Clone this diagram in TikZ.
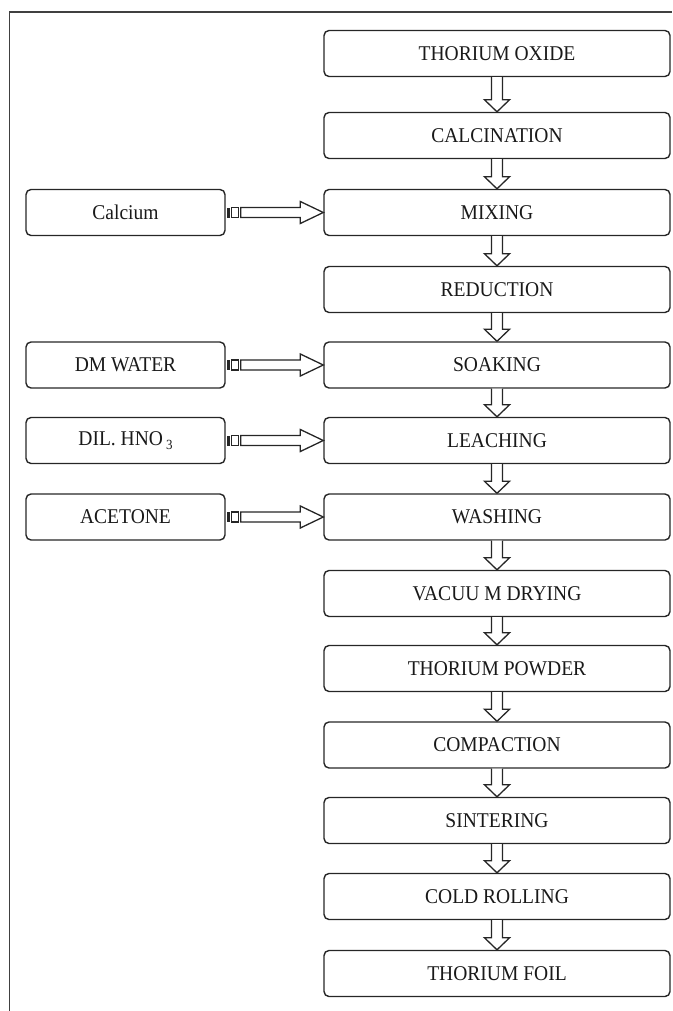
\documentclass[tikz,border=0pt]{standalone}
\usepackage{fontspec}
\setmainfont{Liberation Serif}[FakeStretch=0.93]
\usetikzlibrary{calc}
\tikzset{
  box/.style={draw=black!85, line width=1.4pt, rounded corners=5pt, inner sep=0pt,
    minimum height=46pt, font=\fontsize{21}{24}\selectfont, text=black!90},
  mainbox/.style={box, minimum width=346pt},
  sidebox/.style={box, minimum width=199pt},
  blk/.style={draw=black!85, line width=1.3pt, fill=white, line join=miter},
  framel/.style={draw=black!75, line width=1.5pt}
}
\newcommand{\varr}[2]{%
  \draw[blk] let \p1=(#1.south), \p2=(#2.north) in
    (\x1-5.5pt,\y1) -- (\x1-5.5pt,\y2+12pt) -- (\x1-12.5pt,\y2+12pt) -- (\x1,\y2)
    -- (\x1+12.5pt,\y2+12pt) -- (\x1+5.5pt,\y2+12pt) -- (\x1+5.5pt,\y1);}
\newcommand{\harr}[2]{%
  \fill[black!85] let \p1=(#1.east) in (\x1+1pt,\y1-5pt) rectangle (\x1+4pt,\y1+5pt);
  \draw[blk] let \p1=(#1.east) in (\x1+6pt,\y1-5pt) rectangle (\x1+13pt,\y1+5pt);
  \draw[blk] let \p1=(#1.east), \p2=(#2.west) in
    (\x1+15pt,\y1-5pt) -- (\x2-23pt,\y1-5pt) -- (\x2-23pt,\y1-11pt) -- (\x2,\y1)
    -- (\x2-23pt,\y1+11pt) -- (\x2-23pt,\y1+5pt) -- (\x1+15pt,\y1+5pt) -- cycle;}
\begin{document}
\begin{tikzpicture}[x=1pt,y=-1pt]
\useasboundingbox (0,0) rectangle (672,1011);
\draw[framel] (9.5,1011) -- (9.5,12) -- (672,12);
\node[mainbox] (m1) at (497,53.5) {THORIUM OXIDE};
\node[mainbox] (m2) at (497,135.5) {CALCINATION};
\node[mainbox] (m3) at (497,212.5) {MIXING};
\node[mainbox] (m4) at (497,289.5) {REDUCTION};
\node[mainbox] (m5) at (497,365) {SOAKING};
\node[mainbox] (m6) at (497,440.5) {LEACHING};
\node[mainbox] (m7) at (497,517) {WASHING};
\node[mainbox] (m8) at (497,593.5) {VACUU M DRYING};
\node[mainbox] (m9) at (497,668.5) {THORIUM POWDER};
\node[mainbox] (m10) at (497,745) {COMPACTION};
\node[mainbox] (m11) at (497,820.5) {SINTERING};
\node[mainbox] (m12) at (497,896.5) {COLD ROLLING};
\node[mainbox] (m13) at (497,973.5) {THORIUM FOIL};
\node[sidebox] (s1) at (125.5,212.5) {Calcium};
\node[sidebox] (s2) at (125.5,365) {DM WATER};
\node[sidebox] (s3) at (125.5,440.5) {DIL. HNO\kern3pt\raisebox{-4pt}{\fontsize{14}{14}\selectfont 3}};
\node[sidebox] (s4) at (125.5,517) {ACETONE};
\varr{m1}{m2}
\varr{m2}{m3}
\varr{m3}{m4}
\varr{m4}{m5}
\varr{m5}{m6}
\varr{m6}{m7}
\varr{m7}{m8}
\varr{m8}{m9}
\varr{m9}{m10}
\varr{m10}{m11}
\varr{m11}{m12}
\varr{m12}{m13}
\harr{s1}{m3}
\harr{s2}{m5}
\harr{s3}{m6}
\harr{s4}{m7}
\end{tikzpicture}
\end{document}
